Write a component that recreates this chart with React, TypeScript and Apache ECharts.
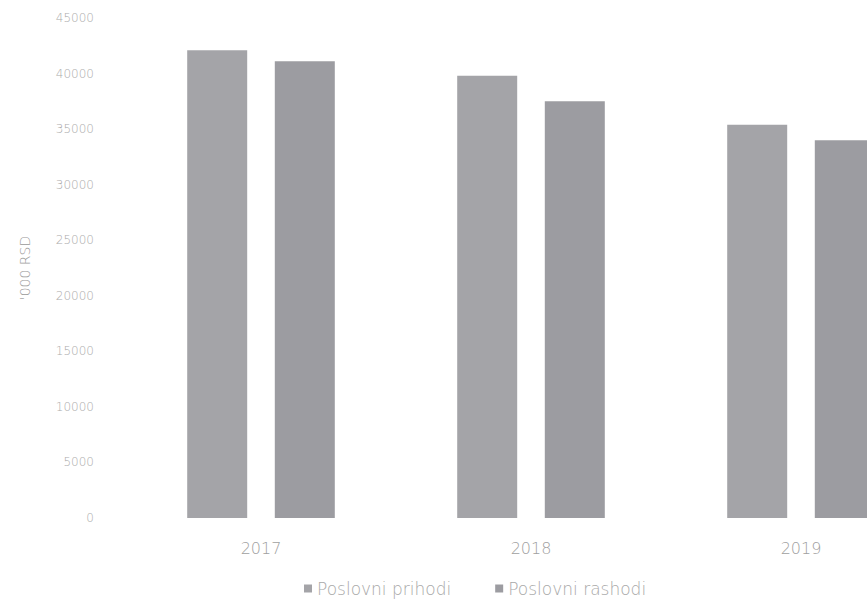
import React, { useEffect, useRef } from "react";
import * as echarts from "echarts";

const categories = ["2017", "2018", "2019"];
const seriesNames = ["Poslovni prihodi", "Poslovni rashodi"];
const prihodi = [42100, 39800, 35400];
const rashodi = [41100, 37500, 34000];
const yTicks = { min: 0, max: 45000, interval: 5000 };

export default function App() {
  const ref = useRef<HTMLDivElement>(null);
  useEffect(() => {
    if (!ref.current) return;
    const chart = echarts.init(ref.current, null, { renderer: "svg" });
    const font = "DejaVu Sans";
    chart.setOption({
      animation: false,
      backgroundColor: "#ffffff",
      textStyle: { fontFamily: font },
      grid: { left: 126, right: 9, top: 18, bottom: 84 },
      legend: {
        data: seriesNames,
        left: 299,
        bottom: 0,
        itemWidth: 8,
        itemHeight: 8,
        itemGap: 44,
        icon: "rect",
        textStyle: { color: "#a8a8a8", fontSize: 17, fontWeight: 200, fontFamily: font },
      },
      xAxis: {
        type: "category",
        data: categories,
        axisLine: { show: false },
        axisTick: { show: false },
        axisLabel: { color: "#a0a0a0", fontSize: 16, fontWeight: 200, margin: 22, fontFamily: font },
      },
      yAxis: {
        type: "value",
        min: yTicks.min,
        max: yTicks.max,
        interval: yTicks.interval,
        name: "'000 RSD",
        nameLocation: "middle",
        nameGap: 94,
        nameRotate: 90,
        nameTextStyle: { color: "#9a9a9a", fontSize: 14, fontWeight: 200, fontFamily: font },
        splitLine: { show: false },
        axisLine: { show: false },
        axisTick: { show: false },
        axisLabel: {
          color: "#ababab",
          fontSize: 12,
          fontWeight: 200,
          margin: 32,
          fontFamily: font,
          formatter: (v: number) => String(v),
        },
      },
      series: [
        {
          name: seriesNames[0],
          type: "bar",
          data: prihodi,
          barWidth: 60,
          barGap: "46%",
          itemStyle: { color: "#a4a4a8" },
        },
        {
          name: seriesNames[1],
          type: "bar",
          data: rashodi,
          barWidth: 60,
          itemStyle: { color: "#9c9ca1" },
        },
      ],
    });
    return () => chart.dispose();
  }, []);
  return (
    <div
      style={{
        position: "fixed",
        left: 0,
        top: 0,
        width: 867,
        height: 602,
        overflow: "hidden",
        background: "#fff",
      }}
    >
      <div ref={ref} style={{ width: 945, height: 602 }} />
    </div>
  );
}
